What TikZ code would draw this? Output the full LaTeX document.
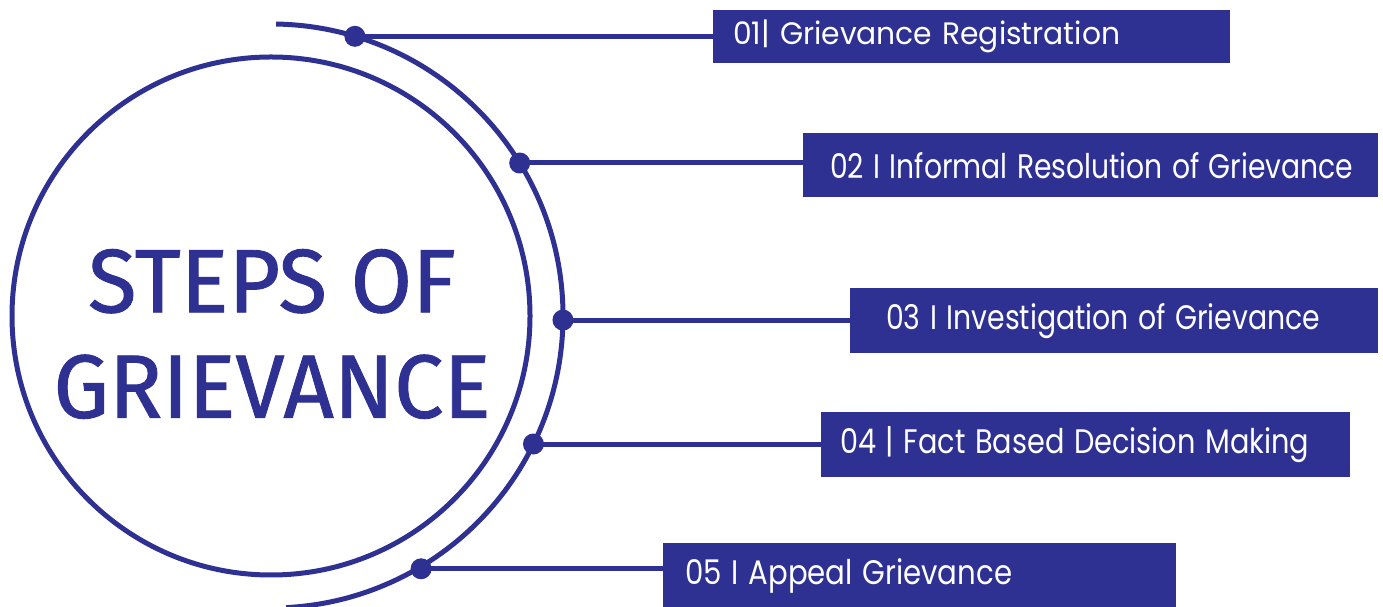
\documentclass[tikz,border=0pt]{standalone}
\usepackage{fontspec}
\usepackage{graphicx}
\setmainfont{Poppins}
\newfontfamily\titlefont{Fira Sans}[FakeBold=1]
\definecolor{navy}{RGB}{46,49,146}

% set a label at a given width, keeping its height
\newcommand\fitlabel[2]{\resizebox{#1pt}{\height}{#2}}

\tikzset{
  ring/.style={draw=navy, line width=5pt},
  dotmark/.style={circle, fill=navy, minimum size=21pt, inner sep=0pt},
  link/.style={draw=navy, line width=5pt},
  stepbox/.style={fill=navy, text=white, inner ysep=0pt, align=left,
    font=\fontsize{34}{40}\selectfont},
}

\begin{document}
\begin{tikzpicture}[x=1pt, y=1pt]
  \useasboundingbox (0,0) rectangle (1383,607);
  \clip (0,0) rectangle (1383,607);

  % centre of the two rings
  \coordinate (c) at (271,291);

  % inner ring with the title
  \node[circle, ring, minimum size=518pt, inner sep=0pt] (core) at (c) {};
  \node[navy, align=center, font={\titlefont\fontsize{90}{105.5}\selectfont}]
    (title) at (272,273) {\fitlabel{368}{STEPS OF}\\\fitlabel{437}{GRIEVANCE}};

  % outer arc
  \draw[ring] (c) ++(89:292) arc[start angle=89, end angle=-87, radius=292];

  % markers on the outer arc
  \node[dotmark] (d1) at ([shift={(73.3:292)}]c) {};
  \node[dotmark] (d2) at ([shift={(31.6:292)}]c) {};
  \node[dotmark] (d3) at ([shift={(-0.8:292)}]c) {};
  \node[dotmark] (d4) at ([shift={(-26:292)}]c) {};
  \node[dotmark] (d5) at ([shift={(-59.3:294)}]c) {};

  % step boxes
  \node[stepbox, anchor=north west, minimum height=53pt, inner xsep=20pt,
        text width=477pt, font=\fontsize{31}{36}\selectfont]
    (b1) at (713,597) {\fitlabel{387}{01\textbar\ Grievance Registration}};
  \node[stepbox, anchor=north west, minimum height=64pt, inner xsep=27pt,
        text width=521pt]
    (b2) at (803,474) {\fitlabel{523}{02 I Informal Resolution of Grievance}};
  \node[stepbox, anchor=north west, minimum height=65pt, inner xsep=36pt,
        text width=456pt]
    (b3) at (850,319) {\fitlabel{434}{03 I Investigation of Grievance}};
  \node[stepbox, anchor=north west, minimum height=65pt, inner xsep=19pt,
        text width=491pt]
    (b4) at (821,195) {\fitlabel{469}{04 \textbar\ Fact Based Decision Making}};
  \node[stepbox, anchor=north west, minimum height=66pt, inner xsep=22pt,
        text width=469pt]
    (b5) at (663,64) {\fitlabel{327}{05 I Appeal Grievance}};

  % connectors from markers to boxes
  \foreach \i in {1,...,5} {
    \draw[link] (d\i.center) -- (d\i.center -| b\i.west);
  }
\end{tikzpicture}
\end{document}
